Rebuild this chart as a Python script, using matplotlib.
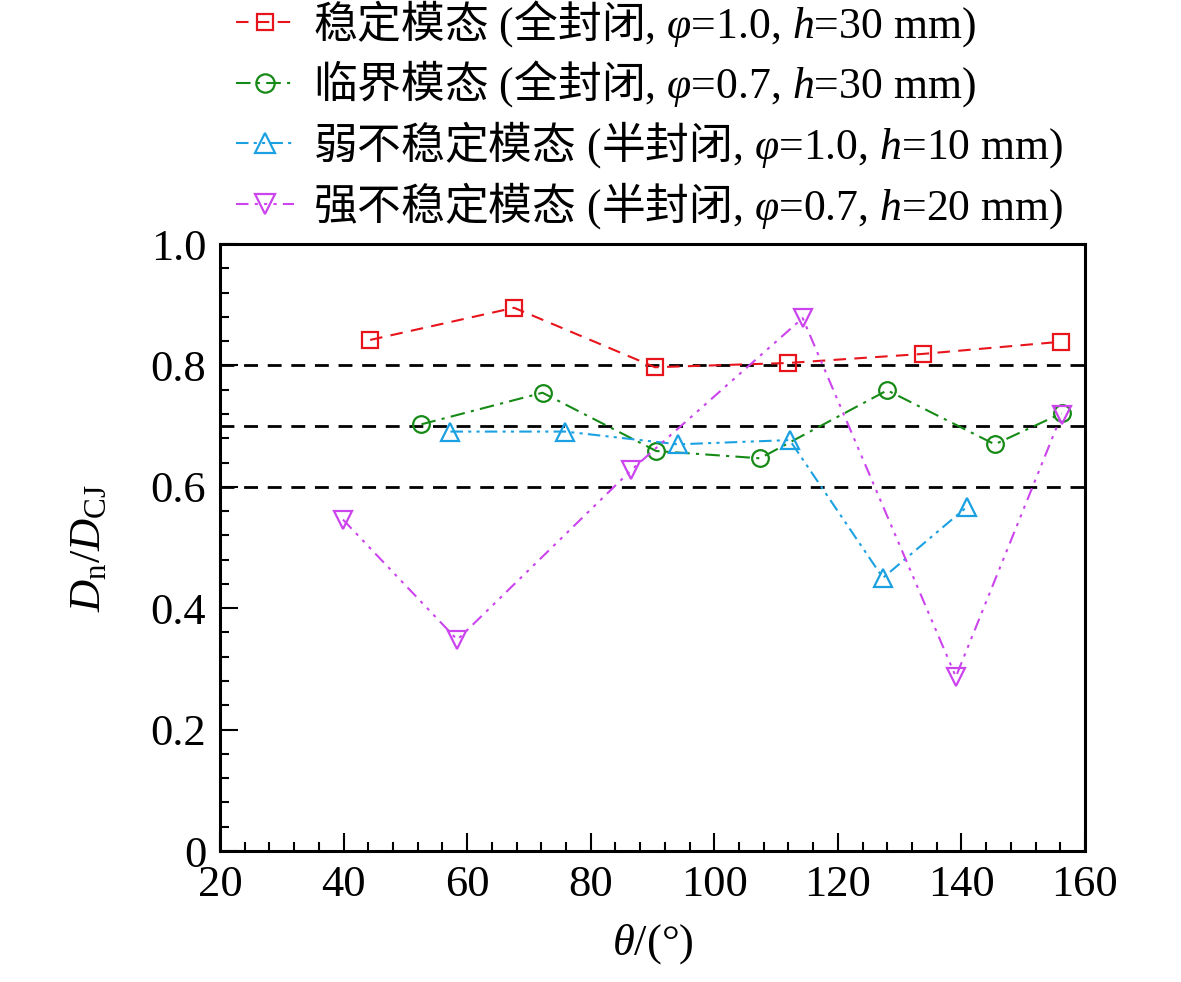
import matplotlib
matplotlib.use("Agg")
import matplotlib.pyplot as plt
from matplotlib.ticker import MultipleLocator, FuncFormatter

# === Fonts ===
plt.rcParams['font.family'] = ['Liberation Serif', 'Noto Sans CJK SC', 'DejaVu Sans']
plt.rcParams['mathtext.fontset'] = 'custom'
plt.rcParams['mathtext.rm'] = 'Liberation Serif'
plt.rcParams['mathtext.it'] = 'Liberation Serif:italic'
plt.rcParams['mathtext.sf'] = 'Noto Sans CJK SC'

# === Data ===
theta_stable = [44.3, 67.6, 90.4, 111.9, 133.8, 156.1]
dn_stable = [0.842, 0.895, 0.797, 0.804, 0.819, 0.839]

theta_critical = [52.6, 72.2, 90.6, 107.4, 128.0, 145.4, 156.2]
dn_critical = [0.703, 0.755, 0.659, 0.647, 0.759, 0.670, 0.721]

theta_weak = [57.3, 75.9, 94.1, 112.2, 127.3, 140.9]
dn_weak = [0.691, 0.691, 0.670, 0.677, 0.450, 0.567]

theta_strong = [39.9, 58.4, 86.6, 114.3, 139.1, 156.2]
dn_strong = [0.546, 0.348, 0.628, 0.878, 0.287, 0.718]

ref_levels = [0.8, 0.7, 0.6]

labels = [
    r"$\mathsf{稳定模态}$ ($\mathsf{全封闭}$, $\varphi$=1.0, $h$=30 mm)",
    r"$\mathsf{临界模态}$ ($\mathsf{全封闭}$, $\varphi$=0.7, $h$=30 mm)",
    r"$\mathsf{弱不稳定模态}$ ($\mathsf{半封闭}$, $\varphi$=1.0, $h$=10 mm)",
    r"$\mathsf{强不稳定模态}$ ($\mathsf{半封闭}$, $\varphi$=0.7, $h$=20 mm)",
]

# === Plot ===
fig = plt.figure(figsize=(11.81, 9.82), dpi=100)
ax = fig.add_axes([0.1863, 0.1334, 0.7324, 0.6181])

for lv in ref_levels:
    ax.axhline(lv, color="black", lw=2, ls=(0, (5, 3.5)), zorder=1)

mk = dict(mfc="none", mew=1.6, lw=1.5)
ax.plot(theta_stable, dn_stable, color="#e8141c", ls=(0, (6, 4)), marker="s", ms=11, label=labels[0], **mk)
ax.plot(theta_critical, dn_critical, color="#168a16", ls=(0, (7, 3, 1.5, 3)), marker="o", ms=12, label=labels[1], **mk)
ax.plot(theta_weak, dn_weak, color="#1ba1e2", ls=(0, (6, 2.5, 1.5, 2.5, 1.5, 2.5)), marker="^", ms=13, label=labels[2], **mk)
ax.plot(theta_strong, dn_strong, color="#cc44ee", ls=(0, (6, 3, 1.5, 3, 1.5, 3, 1.5, 3)), marker="v", ms=13, label=labels[3], **mk)

ax.set_xlim(20, 160)
ax.set_ylim(0, 1.0)
ax.xaxis.set_major_locator(MultipleLocator(20))
ax.xaxis.set_minor_locator(MultipleLocator(4))
ax.yaxis.set_major_locator(MultipleLocator(0.2))
ax.yaxis.set_minor_locator(MultipleLocator(0.04))
ax.yaxis.set_major_formatter(FuncFormatter(lambda v, p: "0" if abs(v) < 1e-9 else f"{v:.1f}"))

ax.tick_params(which="both", direction="in", width=1.5, labelsize=32, top=False, right=False)
ax.tick_params(which="major", length=13, pad=10)
ax.tick_params(which="minor", length=6.5)
for sp in ax.spines.values():
    sp.set_linewidth(2.2)

ax.set_xlabel(r"$\theta$/(°)", fontsize=32, labelpad=12)
ax.set_ylabel(r"$D_{\mathrm{n}}/D_{\mathrm{CJ}}$", fontsize=32, labelpad=30)

fig.legend(loc="upper left", bbox_to_anchor=(0.185, 1.02), frameon=False, fontsize=31.5,
           handlelength=1.33, handletextpad=0.42, labelspacing=0.22, borderaxespad=0, markerscale=1.1)

fig.savefig("out.png", dpi=100)
